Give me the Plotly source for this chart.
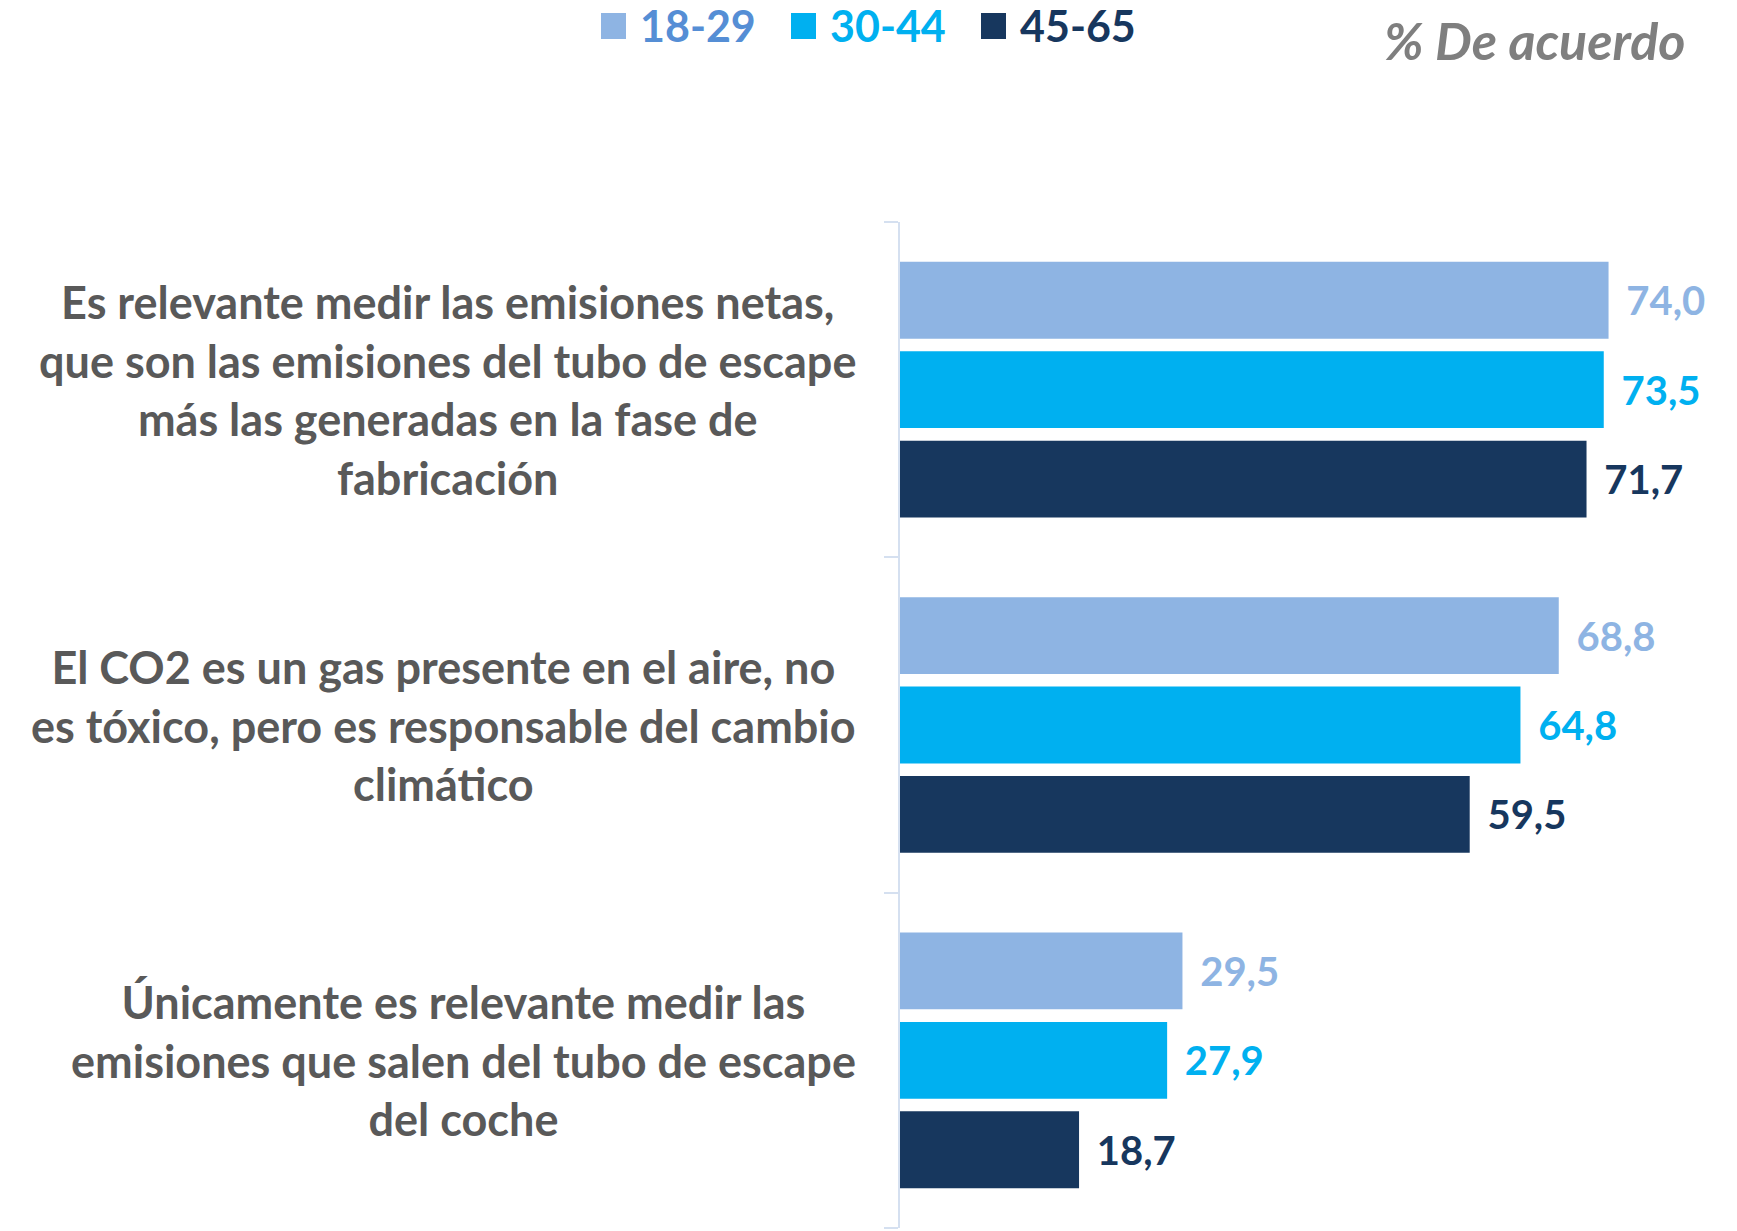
import plotly.graph_objects as go

categories = [
    "Es relevante medir las emisiones netas,<br>que son las emisiones del tubo de escape<br>más las generadas en la fase de<br>fabricación",
    "El CO2 es un gas presente en el aire, no<br>es tóxico, pero es responsable del cambio<br>climático",
    "Únicamente es relevante medir las<br>emisiones que salen del tubo de escape<br>del coche",
]
series_names = ["18-29", "30-44", "45-65"]
values_18_29 = [74.0, 68.8, 29.5]
values_30_44 = [73.5, 64.8, 27.9]
values_45_65 = [71.7, 59.5, 18.7]

bar_colors = ["#8EB4E3", "#00B0F0", "#17375E"]
value_colors = ["#8EB4E3", "#00B0F0", "#17375E"]
legend_text_colors = ["#558ED5", "#00B0F0", "#17375E"]

FONT = "Lato, 'Open Sans', sans-serif"
W, H = 1737, 1231
ML, MR, MT, MB = 900, 71, 222, 3

fig = go.Figure()
for name, vals, bc, vc in zip(series_names, [values_18_29, values_30_44, values_45_65], bar_colors, value_colors):
    fig.add_trace(go.Bar(
        y=list(range(len(categories))),
        x=vals,
        orientation="h",
        name=name,
        marker=dict(color=bc, line=dict(width=0)),
        text=["\u00a0\u2009" + f"{v:.1f}".replace(".", ",") for v in vals],
        textposition="outside",
        textfont=dict(family=FONT, size=40, color=vc, weight="bold"),
        constraintext="none",
        cliponaxis=False,
        showlegend=False,
        hoverinfo="skip",
    ))

annotations = []
for i, cat in enumerate(categories):
    annotations.append(dict(
        x=0, xref="paper", y=i, yref="y",
        text=cat, showarrow=False,
        xanchor="right", yanchor="middle", align="center",
        xshift=-42,
        font=dict(family=FONT, size=45, color="#595959", weight="bold"),
    ))

# Manual legend (squares + coloured labels)
plot_w = W - ML - MR
plot_h = H - MT - MB
def px_x(p):
    return (p - ML) / plot_w
def px_y(p):
    return 1 - (p - MT) / plot_h

legend_sq_x = [601, 791, 981]
shapes = []
for sx, name, bc, tc in zip(legend_sq_x, series_names, bar_colors, legend_text_colors):
    shapes.append(dict(type="rect", xref="paper", yref="paper",
                       x0=px_x(sx), x1=px_x(sx + 25), y0=px_y(39), y1=px_y(13),
                       fillcolor=bc, line=dict(width=0)))
    annotations.append(dict(
        x=px_x(sx + 37), xref="paper", y=px_y(26), yref="paper",
        text=name, showarrow=False, xanchor="left", yanchor="middle",
        font=dict(family=FONT, size=43, color=tc, weight="bold"),
    ))

annotations.append(dict(
    x=px_x(1688), xref="paper", y=px_y(40), yref="paper",
    text="<i>% De acuerdo</i>", showarrow=False, xanchor="right", yanchor="middle",
    font=dict(family=FONT, size=52, color="#7F7F7F", weight="bold"),
))

fig.update_layout(
    width=W, height=H,
    margin=dict(l=ML, r=MR, t=MT, b=MB),
    paper_bgcolor="white", plot_bgcolor="white",
    barmode="group", bargap=0.2, bargroupgap=0.14,
    showlegend=False,
    annotations=annotations,
    shapes=shapes,
    xaxis=dict(range=[0, 80], visible=False, showgrid=False, zeroline=False),
    yaxis=dict(
        type="linear", range=[2.5, -0.5],
        showline=True, linecolor="#D5E0F0", linewidth=2,
        ticks="outside", tickvals=[-0.5, 0.5, 1.5, 2.5], ticklen=14, tickcolor="#D5E0F0", tickwidth=2,
        showticklabels=False, showgrid=False, zeroline=False,
    ),
)

fig.write_html(
    "out.html",
    config={"displayModeBar": False, "staticPlot": True},
    post_script="document.body.style.margin='0';document.body.style.overflow='hidden';",
)
